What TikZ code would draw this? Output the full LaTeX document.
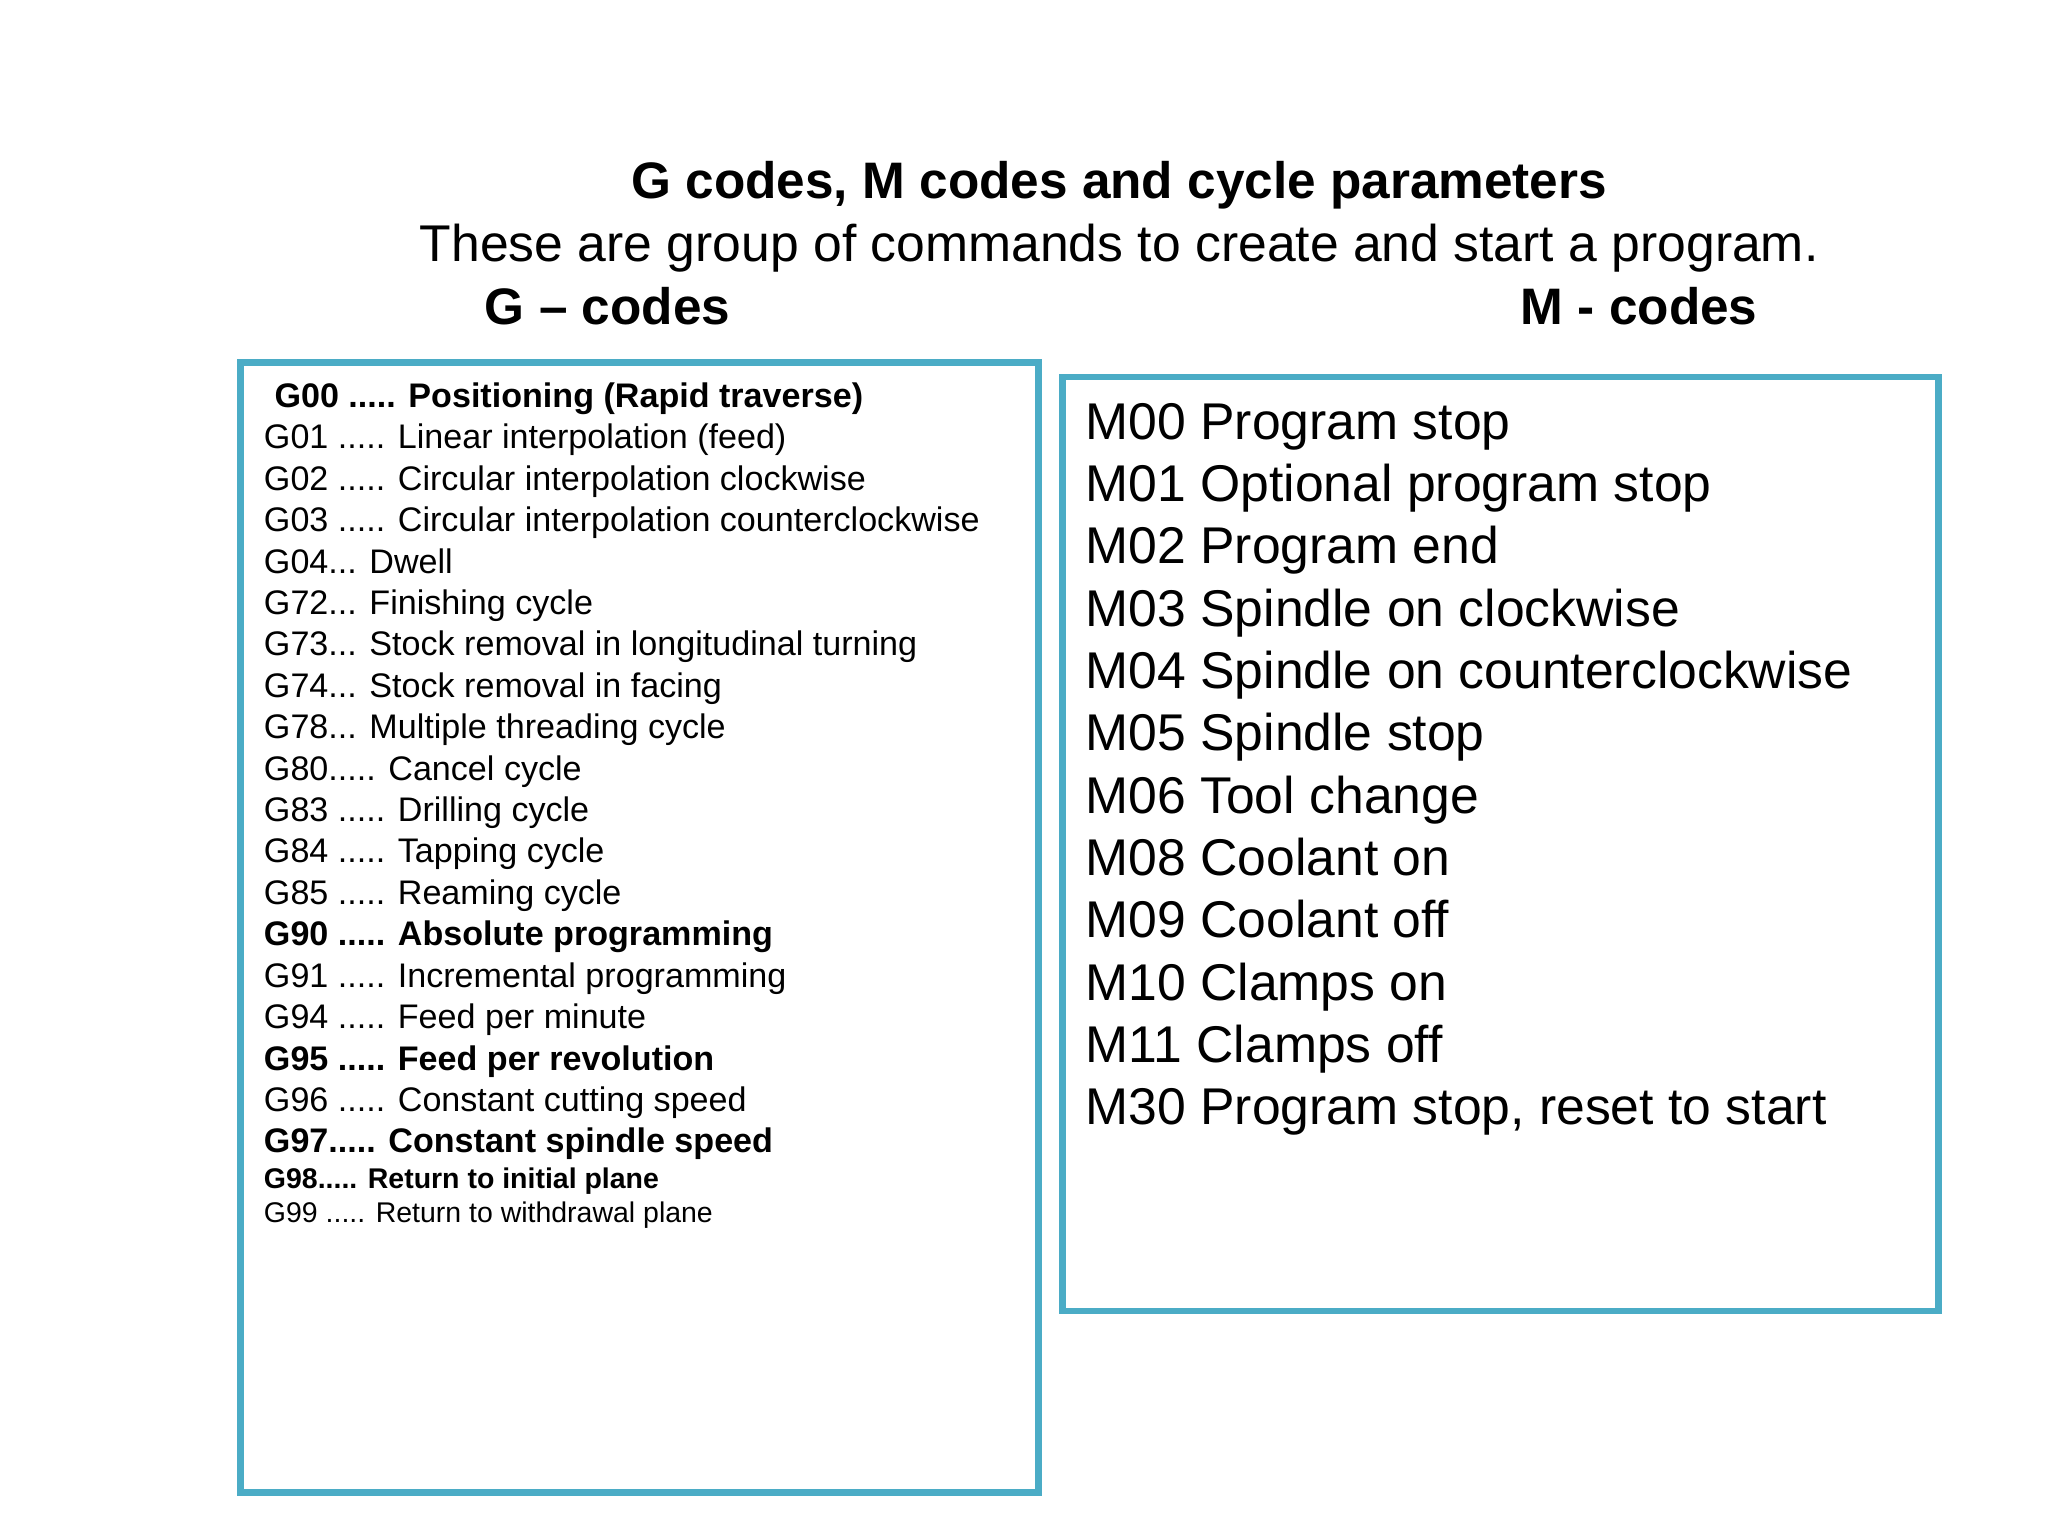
\documentclass[tikz,border=0pt]{standalone}
\usepackage{fontspec}
\setmainfont{Liberation Sans}
\definecolor{boxc}{HTML}{4BACC6}
\begin{document}
\begin{tikzpicture}[x=0.01323cm,y=-0.01323cm,
 gl/.style={anchor=base west,inner sep=0pt,font=\fontsize{9.7pt}{11pt}\selectfont},
 gb/.style={gl,font=\fontsize{9.7pt}{11pt}\selectfont\bfseries},
 gs/.style={anchor=base west,inner sep=0pt,font=\fontsize{8.1pt}{9pt}\selectfont},
 ml/.style={anchor=base west,inner sep=0pt,font=\fontsize{14.7pt}{16pt}\selectfont},
 hd/.style={inner sep=0pt,font=\fontsize{14.6pt}{16pt}\selectfont\bfseries},
 box/.style={draw=boxc,line width=1.9pt}]
\useasboundingbox[fill=white] (0,0) rectangle (1548,1161);
\node[hd,anchor=base] (title) at (846,150) {G codes, M codes and cycle parameters};
\node[anchor=base,inner sep=0pt,font=\fontsize{14.7pt}{16pt}\selectfont] (sub) at (846,198) {These are group of commands to create and start a program.};
\node[hd,anchor=base west] (gh) at (366,245) {G -- codes};
\node[hd,anchor=base west] (mh) at (1149,245) {M - codes};
\draw[box] (182,274) rectangle (785,1128);
\draw[box] (803,285) rectangle (1465,991);
\node[gb] (g0) at (207,308) {G00 ..... Positioning (Rapid traverse)};
\node[gl] (g1) at (199,339.3) {G01 ..... Linear interpolation (feed)};
\node[gl] (g2) at (199,370.6) {G02 ..... Circular interpolation clockwise};
\node[gl] (g3) at (199,401.9) {G03 ..... Circular interpolation counterclockwise};
\node[gl] (g4) at (199,433.2) {G04... Dwell};
\node[gl] (g5) at (199,464.5) {G72... Finishing cycle};
\node[gl] (g6) at (199,495.8) {G73... Stock removal in longitudinal turning};
\node[gl] (g7) at (199,527.1) {G74... Stock removal in facing};
\node[gl] (g8) at (199,558.4) {G78... Multiple threading cycle};
\node[gl] (g9) at (199,589.7) {G80..... Cancel cycle};
\node[gl] (g10) at (199,621) {G83 ..... Drilling cycle};
\node[gl] (g11) at (199,652.3) {G84 ..... Tapping cycle};
\node[gl] (g12) at (199,683.6) {G85 ..... Reaming cycle};
\node[gb] (g13) at (199,714.9) {G90 ..... Absolute programming};
\node[gl] (g14) at (199,746.2) {G91 ..... Incremental programming};
\node[gl] (g15) at (199,777.5) {G94 ..... Feed per minute};
\node[gb] (g16) at (199,808.8) {G95 ..... Feed per revolution};
\node[gl] (g17) at (199,840.1) {G96 ..... Constant cutting speed};
\node[gb] (g18) at (199,871.4) {G97..... Constant spindle speed};
\node[gs,font=\fontsize{8.1pt}{9pt}\selectfont\bfseries] (g98) at (199,898) {G98..... Return to initial plane};
\node[gs] (g99) at (199,924) {G99 ..... Return to withdrawal plane};
\foreach \t [count=\i from 0] in {M00 Program stop,M01 Optional program stop,M02 Program end,M03 Spindle on clockwise,M04 Spindle on counterclockwise,M05 Spindle stop,M06 Tool change,M08 Coolant on,M09 Coolant off,M10 Clamps on,M11 Clamps off,{M30 Program stop, reset to start}}
  \node[ml] (m\i) at (820,{332+47.1*\i}) {\t};
\end{tikzpicture}
\end{document}
